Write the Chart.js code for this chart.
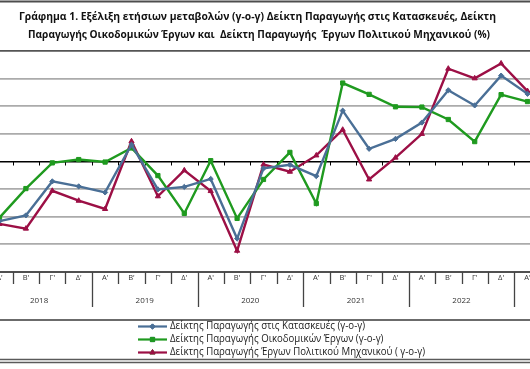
<!DOCTYPE html>
<html><head><meta charset="utf-8">
<script src="https://cdn.jsdelivr.net/npm/chart.js@4/dist/chart.umd.min.js"></script>
<style>
html,body{margin:0;padding:0;background:#fff;overflow:hidden;width:530px;height:369px}
#wrap{position:absolute;left:-40px;top:0;width:620px;height:369px}
canvas{display:block}
</style></head><body>
<div id="wrap"><canvas id="c" width="620" height="369"></canvas></div>
<script>
const titleLines = [
  "Γράφημα 1. Εξέλιξη ετήσιων μεταβολών (γ-ο-γ) Δείκτη Παραγωγής στις Κατασκευές, Δείκτη",
  "Παραγωγής Οικοδομικών Έργων και  Δείκτη Παραγωγής  Έργων Πολιτικού Μηχανικού (%)"
];
const quarters = ["Α'","Β'","Γ'","Δ'","Α'","Β'","Γ'","Δ'","Α'","Β'","Γ'","Δ'","Α'","Β'","Γ'","Δ'","Α'","Β'","Γ'","Δ'","Α'"];
const years = ["2018","2019","2020","2021","2022"];
const seriesNames = [
  "Δείκτης Παραγωγής στις Κατασκευές (γ-ο-γ)",
  "Δείκτης Παραγωγής Οικοδομικών Έργων (γ-ο-γ)",
  "Δείκτης Παραγωγής Έργων Πολιτικού Μηχανικού ( γ-ο-γ)"
];
const construction = [-21.6,-19.5,-7.2,-9.0,-11.2,6.1,-10.1,-9.2,-6.3,-27.9,-2.5,-1.2,-5.3,18.4,4.6,8.2,14.1,25.8,20.3,31.1,24.5];
const buildings    = [-20.3,-9.8,-0.5,0.7,-0.2,4.9,-5.1,-18.8,0.3,-20.6,-6.5,3.3,-15.2,28.4,24.3,19.8,19.7,15.2,7.2,24.2,21.7];
const civil        = [-22.6,-24.3,-10.6,-14.2,-17.2,7.3,-12.6,-3.2,-10.7,-32.3,-1.1,-3.7,2.2,11.5,-6.5,1.4,10.0,33.6,30.1,35.5,25.5];
const yMin = -40, yMax = 40, yStep = 10;

const colors = ['#4a6f96', '#1f9a1f', '#9c0f45'];
const markers = ['rectRot', 'rect', 'triangle'];
const OFF = 40; // canvas offset to the left of the page

function stretchText(ctx, text, x, y, scale, align){
  ctx.save();
  ctx.translate(x, y);
  ctx.scale(scale, 1);
  ctx.textAlign = align;
  ctx.fillText(text, 0, 0);
  ctx.restore();
}
function hline(ctx, x1, x2, y, color, w){
  ctx.save(); ctx.strokeStyle = color; ctx.lineWidth = w;
  ctx.beginPath(); ctx.moveTo(x1, y); ctx.lineTo(x2, y); ctx.stroke(); ctx.restore();
}
function vline(ctx, x, y1, y2, color, w){
  ctx.save(); ctx.strokeStyle = color; ctx.lineWidth = w;
  ctx.beginPath(); ctx.moveTo(x, y1); ctx.lineTo(x, y2); ctx.stroke(); ctx.restore();
}

const decor = {
  id: 'decor',
  beforeDatasetsDraw(chart){
    const {ctx, chartArea: a, scales: {y}} = chart;
    const y0 = y.getPixelForValue(0);
    const w = (a.right - a.left) / quarters.length;
    for (let k = 1; k < quarters.length; k++) {
      const xx = Math.round(a.left + k * w) + 0.5;
      vline(ctx, xx, y0, y0 + 4, '#000', 1);
    }
  },
  afterDraw(chart){
    const {ctx, chartArea: a} = chart;
    const W = chart.width;
    const w = (a.right - a.left) / quarters.length;
    // outer frame line on top
    hline(ctx, 0, W, 1.5, '#4d4d4d', 2);
    // title
    ctx.save();
    ctx.fillStyle = '#111';
    ctx.textBaseline = 'middle';
    ctx.font = 'bold 11px "Open Sans"';
    const targets = [477, 462];
    const centers = [257.5 + OFF, 259 + OFF];
    const ys = [17, 35];
    titleLines.forEach((t, i) => {
      const m = ctx.measureText(t).width;
      stretchText(ctx, t, centers[i], ys[i], targets[i] / m, 'center');
    });
    ctx.restore();
    // category label box
    const top = a.bottom;
    hline(ctx, 0, W, top, '#505050', 2);
    ctx.save();
    ctx.fillStyle = '#333';
    ctx.textBaseline = 'middle';
    ctx.font = '7.5px "Open Sans"';
    for (let k = 0; k < quarters.length; k++) {
      const cx = a.left + (k + 0.5) * w;
      ctx.textAlign = 'center';
      ctx.fillText(quarters[k], cx, top + 5.5);
      if (k > 0) {
        const bx = Math.round(a.left + k * w) + 0.5;
        const long = (k % 4 === 0);
        vline(ctx, bx, top, top + (long ? 35 : 12), '#444', 1.3);
      }
    }
    ctx.font = '8px "Open Sans"';
    years.forEach((yr, g) => {
      const cx = a.left + (g * 4 + 2) * w;
      ctx.textAlign = 'center';
      ctx.fillText(yr, cx, top + 29);
    });
    ctx.restore();
    // legend box
    hline(ctx, 0, W, 320, '#6b6b6b', 2);
    hline(ctx, 0, W, 359.5, '#5a5a5a', 1.5);
    hline(ctx, 0, W, 362.5, '#5a5a5a', 1.5);
    ctx.save();
    ctx.textBaseline = 'middle';
    ctx.font = '10px "Open Sans"';
    const mLong = ctx.measureText(seriesNames[2]).width;
    const sc = 255 / mLong;
    const ly = [326.5, 339.5, 352.5];
    chart.data.datasets.forEach((ds, i) => {
      const x1 = 138 + OFF, x2 = 167 + OFF, yy = ly[i];
      ctx.save();
      ctx.strokeStyle = ds.borderColor; ctx.lineWidth = 2.2;
      ctx.beginPath(); ctx.moveTo(x1, yy); ctx.lineTo(x2, yy); ctx.stroke();
      ctx.restore();
      Chart.helpers.drawPoint(ctx, {pointStyle: ds.pointStyle, radius: ds.pointRadius, borderWidth: 1}, (x1 + x2) / 2, yy);
      ctx.fillStyle = ds.borderColor; ctx.strokeStyle = ds.borderColor;
      ctx.beginPath();
      ctx.save();
      ctx.fillStyle = ds.borderColor; ctx.strokeStyle = ds.borderColor; ctx.lineWidth = 1;
      Chart.helpers.drawPoint(ctx, {pointStyle: ds.pointStyle, radius: ds.pointRadius, borderWidth: 1}, (x1 + x2) / 2, yy);
      ctx.restore();
      ctx.fillStyle = '#1a1a1a';
      stretchText(ctx, seriesNames[i], 170 + OFF, yy, sc, 'left');
    });
    ctx.restore();
  }
};

const series = [construction, buildings, civil];
const datasets = series.map((d, i) => ({
  label: seriesNames[i],
  data: d,
  borderColor: colors[i],
  backgroundColor: colors[i],
  borderWidth: 2.4,
  pointStyle: markers[i],
  pointRadius: i === 0 ? 2.6 : 3,
  pointBorderWidth: 1,
  tension: 0,
  clip: false
}));

new Chart(document.getElementById('c'), {
  type: 'line',
  data: { labels: quarters, datasets },
  options: {
    responsive: false,
    animation: false,
    devicePixelRatio: 1,
    layout: { padding: { left: 26.3, right: 39.3, top: 51, bottom: 97 } },
    plugins: { legend: { display: false }, title: { display: false }, tooltip: { enabled: false } },
    scales: {
      x: {
        type: 'category',
        offset: true,
        grid: { display: false, drawTicks: false },
        border: { display: false },
        ticks: { display: false },
        afterFit: s => { s.height = 0; }
      },
      y: {
        min: yMin, max: yMax,
        grid: {
          drawTicks: false,
          color: c => c.tick.value === 0 ? '#000' : (c.tick.value === yMax ? '#555' : (c.tick.value === yMin ? '#505050' : '#ababab')),
          lineWidth: c => c.tick.value === 0 ? 1.4 : 1.8
        },
        border: { display: false },
        ticks: { display: false, stepSize: yStep },
        afterFit: s => { s.width = 0; }
      }
    }
  },
  plugins: [decor]
});
</script>
</body></html>
